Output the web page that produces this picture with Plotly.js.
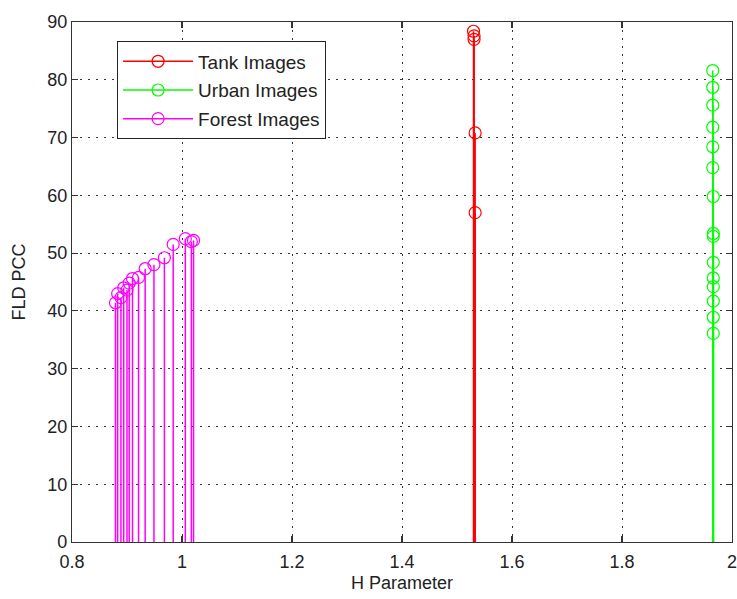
<!DOCTYPE html>
<html>
<head>
<meta charset="utf-8">
<script src="https://cdn.plot.ly/plotly-3.0.1.min.js"></script>
<style>html,body{margin:0;padding:0;background:#fff;}#chart{width:737px;height:599px;}</style>
</head>
<body>
<div id="chart"></div>
<script>
// Series names
const seriesNames = ["Tank Images", "Urban Images", "Forest Images"];
const seriesColors = ["#ff0000", "#00ff00", "#ff00ff"];

// Tank Images: H parameter and FLD PCC
const tankH   = [1.530, 1.531, 1.531, 1.533, 1.533];
const tankPCC = [88.4, 87.6, 87.0, 70.8, 57.0];

// Urban Images
const urbanH   = [1.965, 1.965, 1.965, 1.965, 1.965, 1.965, 1.966, 1.966, 1.966, 1.966, 1.966, 1.966, 1.966, 1.966, 1.966];
const urbanPCC = [81.6, 78.7, 75.6, 71.8, 68.4, 64.8, 59.8, 53.4, 52.9, 48.4, 45.7, 44.2, 41.7, 38.9, 36.1];

// Forest Images
const forestH   = [0.879, 0.883, 0.889, 0.894, 0.900, 0.904, 0.910, 0.921, 0.933, 0.949, 0.968, 0.984, 1.006, 1.017, 1.021];
const forestPCC = [41.4, 43.0, 42.3, 44.0, 43.6, 44.8, 45.6, 45.8, 47.3, 48.0, 49.2, 51.5, 52.5, 52.0, 52.2];

const xTicks = [0.8, 1, 1.2, 1.4, 1.6, 1.8, 2];
const xTickText = ["0.8", "1", "1.2", "1.4", "1.6", "1.8", "2"];
const yTicks = [0, 10, 20, 30, 40, 50, 60, 70, 80, 90];

function stems(xs, ys) {
  const sx = [], sy = [];
  xs.forEach((x, i) => { sx.push(x, x, null); sy.push(0, ys[i], null); });
  return {x: sx, y: sy};
}

const sets = [[tankH, tankPCC], [urbanH, urbanPCC], [forestH, forestPCC]];
const groups = ["tank", "urban", "forest"];
const traces = [];
[2, 1, 0].forEach(k => {
  const s = stems(sets[k][0], sets[k][1]);
  traces.push({type: "scatter", mode: "lines", x: s.x, y: s.y, showlegend: false, hoverinfo: "skip",
    legendgroup: groups[k], line: {color: seriesColors[k], width: 1.5}, connectgaps: false});
  traces.push({type: "scatter", mode: "markers", x: sets[k][0], y: sets[k][1], showlegend: false,
    legendgroup: groups[k],
    marker: {symbol: "circle-open", size: 12, color: seriesColors[k], line: {width: 1.2, color: seriesColors[k]}}});
});
[0, 1, 2].forEach(k => {
  traces.push({type: "scatter", mode: "lines+markers", x: [null], y: [null], name: seriesNames[k],
    legendgroup: groups[k],
    line: {color: seriesColors[k], width: 1.5},
    marker: {symbol: "circle-open", size: 12, color: seriesColors[k], line: {width: 1.2, color: seriesColors[k]}}});
});

const axisCommon = {
  showline: true, linecolor: "#333", linewidth: 1.2, mirror: "ticks",
  ticks: "inside", ticklen: 6, tickcolor: "#333", tickwidth: 1.2,
  showgrid: true, gridcolor: "#333", gridwidth: 1, griddash: "2px,6px",
  zeroline: false, ticklabeloverflow: "allow",
  tickfont: {family: "Liberation Sans, Arial, sans-serif", size: 18, color: "#222"}
};

const layout = {
  width: 737, height: 599,
  margin: {l: 72, r: 5, t: 22, b: 57},
  paper_bgcolor: "#fff", plot_bgcolor: "#fff",
  font: {family: "Liberation Sans, Arial, sans-serif", size: 18, color: "#222"},
  xaxis: Object.assign({}, axisCommon, {range: [0.8, 2], tickvals: xTicks, ticktext: xTickText,
    ticklabelstandoff: 3,
    title: {text: "H Parameter", font: {size: 18}, standoff: 5}}),
  yaxis: Object.assign({}, axisCommon, {range: [0, 90], tickvals: yTicks,
    title: {text: "FLD PCC", font: {size: 18}, standoff: 16}}),
  legend: {x: 0.068, y: 0.963, xanchor: "left", yanchor: "top", bgcolor: "#fff",
    bordercolor: "#222", borderwidth: 1.2, font: {size: 19, color: "#222"},
    tracegroupgap: 1, itemwidth: 70, traceorder: "grouped"},
  showlegend: true
};

Plotly.newPlot("chart", traces, layout, {displayModeBar: false, staticPlot: true});
</script>
</body>
</html>
